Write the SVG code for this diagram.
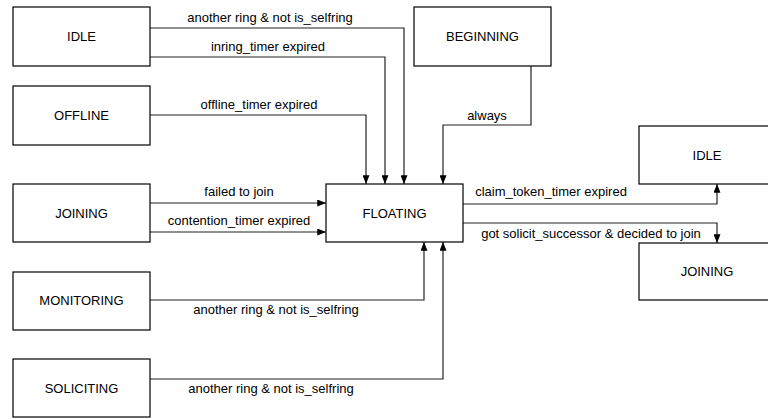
<svg xmlns="http://www.w3.org/2000/svg" width="768" height="419" viewBox="0 0 768 419">
  <style>
    .box { fill: #fff; stroke: #000; stroke-width: 1.2; }
    .name { font-family: "Liberation Sans", Arial, sans-serif; font-size: 13px; fill: #000; text-anchor: middle; }
    .lbl { font-family: "Liberation Sans", Arial, sans-serif; font-size: 13px; fill: #000; text-anchor: middle; }
    .edge { fill: none; stroke: #222; stroke-width: 1.2; marker-end: url(#arrow); }
  </style>
  <defs>
    <marker id="arrow" viewBox="0 0 10 8" refX="10" refY="4" markerUnits="userSpaceOnUse" markerWidth="10" markerHeight="7" orient="auto">
      <path d="M0,0 L10,4 L0,8 Z" fill="#000"/>
    </marker>
  </defs>
  <rect width="768" height="419" fill="#fff"/>

  <g id="connectors">
    <path class="edge" d="M150,28 H404 V184"/>
    <text class="lbl" x="270" y="22">another ring &amp; not is_selfring</text>
    <path class="edge" d="M150,57 H385 V184"/>
    <text class="lbl" x="268" y="51">inring_timer expired</text>
    <path class="edge" d="M150,115 H366 V184"/>
    <text class="lbl" x="259" y="109">offline_timer expired</text>
    <path class="edge" d="M531,66 V125 H443 V184"/>
    <text class="lbl" x="487" y="120">always</text>
    <path class="edge" d="M150,203 H326"/>
    <text class="lbl" x="239" y="196">failed to join</text>
    <path class="edge" d="M150,232 H326"/>
    <text class="lbl" x="239" y="225">contention_timer expired</text>
    <path class="edge" d="M150,300 H424 V242"/>
    <text class="lbl" x="276" y="314">another ring &amp; not is_selfring</text>
    <path class="edge" d="M150,379 H443 V242"/>
    <text class="lbl" x="271" y="393">another ring &amp; not is_selfring</text>
    <path class="edge" d="M463,204 H717 V184"/>
    <text class="lbl" x="551" y="196">claim_token_timer expired</text>
    <path class="edge" d="M463,223 H717 V243"/>
    <text class="lbl" x="591" y="238">got solicit_successor &amp; decided to join</text>
  </g>

  <g id="idle">
    <rect class="box" x="13" y="7" width="137" height="59"/>
    <text class="name" x="81.5" y="41">IDLE</text>
  </g>
  <g id="offline">
    <rect class="box" x="13" y="86" width="137" height="59"/>
    <text class="name" x="81.5" y="120">OFFLINE</text>
  </g>
  <g id="beginning">
    <rect class="box" x="414" y="7" width="137" height="59"/>
    <text class="name" x="482.5" y="41">BEGINNING</text>
  </g>
  <g id="joining">
    <rect class="box" x="13" y="184" width="137" height="58"/>
    <text class="name" x="81.5" y="218">JOINING</text>
  </g>
  <g id="floating">
    <rect class="box" x="326" y="184" width="137" height="58"/>
    <text class="name" x="394.5" y="218">FLOATING</text>
  </g>
  <g id="monitoring">
    <rect class="box" x="13" y="272" width="137" height="58"/>
    <text class="name" x="81.5" y="305">MONITORING</text>
  </g>
  <g id="soliciting">
    <rect class="box" x="13" y="359" width="137" height="58"/>
    <text class="name" x="81.5" y="393">SOLICITING</text>
  </g>
  <g id="idle-target">
    <rect class="box" x="639" y="126" width="137" height="58"/>
    <text class="name" x="707" y="160">IDLE</text>
  </g>
  <g id="joining-target">
    <rect class="box" x="639" y="243" width="137" height="57"/>
    <text class="name" x="707" y="276">JOINING</text>
  </g>
</svg>
